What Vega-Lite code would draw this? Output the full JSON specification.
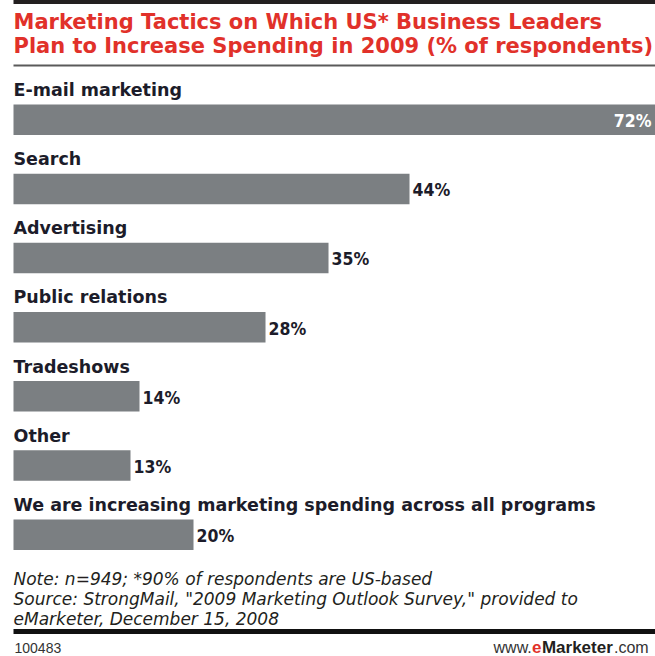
{
  "$schema": "https://vega.github.io/schema/vega-lite/v6.json",
  "padding": {"left": 10.5, "top": 0, "right": 0, "bottom": 0},
  "background": "white",
  "spacing": 0,
  "bounds": "flush",
  "config": {"view": {"stroke": null}},
  "datasets": {
    "tactics": [
      {"tactic": "E-mail marketing", "pct": 72, "label": "72%"},
      {"tactic": "Search", "pct": 44, "label": "44%"},
      {"tactic": "Advertising", "pct": 35, "label": "35%"},
      {"tactic": "Public relations", "pct": 28, "label": "28%"},
      {"tactic": "Tradeshows", "pct": 14, "label": "14%"},
      {"tactic": "Other", "pct": 13, "label": "13%"},
      {"tactic": "We are increasing marketing spending across all programs", "pct": 20, "label": "20%"}
    ],
    "titleLines": [
      {"line": 1, "text": "Marketing Tactics on Which US* Business Leaders"},
      {"line": 2, "text": "Plan to Increase Spending in 2009 (% of respondents)"}
    ],
    "notes": [
      {"line": 1, "text": "Note: n=949; *90% of respondents are US-based"},
      {"line": 2, "text": "Source: StrongMail, \"2009 Marketing Outlook Survey,\" provided to"},
      {"line": 3, "text": "eMarketer, December 15, 2008"}
    ]
  },
  "vconcat": [
    {
      "width": 642,
      "height": 75,
      "layer": [
        {
          "data": {"values": [{}]},
          "mark": {"type": "rule", "color": "#231f20", "strokeWidth": 4},
          "encoding": {"y": {"datum": 2, "type": "quantitative", "scale": {"domain": [0, 75], "reverse": true}, "axis": null}}
        },
        {
          "data": {"values": [{}]},
          "mark": {"type": "rule", "color": "#5a5a5a", "strokeWidth": 2},
          "encoding": {"y": {"datum": 65.5, "type": "quantitative", "scale": {"domain": [0, 75], "reverse": true}, "axis": null}}
        },
        {
          "data": {"name": "titleLines"},
          "mark": {"type": "text", "align": "left", "baseline": "alphabetic", "font": "DejaVu Sans", "fontWeight": "bold", "fontSize": 21, "color": "#e1312a"},
          "encoding": {
            "x": {"datum": 0, "type": "quantitative", "scale": {"domain": [0, 642]}, "axis": null},
            "y": {"field": "line", "type": "ordinal", "scale": {"type": "point", "range": [29, 53], "padding": 0}, "axis": null},
            "text": {"field": "text"}
          }
        }
      ],
      "resolve": {"scale": {"y": "independent"}}
    },
    {
      "width": 642,
      "height": 484,
      "data": {"name": "tactics"},
      "encoding": {
        "y": {"field": "tactic", "type": "nominal", "sort": null, "axis": null, "scale": {"paddingInner": 0, "paddingOuter": 0}}
      },
      "layer": [
        {
          "mark": {"type": "bar", "color": "#7b7f82", "height": 30.5, "yOffset": 10.2},
          "encoding": {
            "x": {"field": "pct", "type": "quantitative", "axis": null, "scale": {"domain": [0, 71.33], "nice": false, "zero": true, "clamp": true}}
          }
        },
        {
          "transform": [{"filter": "datum.pct < 60"}],
          "mark": {"type": "text", "align": "left", "baseline": "alphabetic", "dx": 3, "dy": 17.5, "font": "DejaVu Sans Condensed", "fontWeight": "bold", "fontSize": 17.5, "color": "#1c1c2a"},
          "encoding": {"x": {"field": "pct", "type": "quantitative"}, "text": {"field": "label"}}
        },
        {
          "transform": [{"filter": "datum.pct >= 60"}],
          "mark": {"type": "text", "align": "right", "baseline": "alphabetic", "dx": -4, "dy": 17.5, "font": "DejaVu Sans Condensed", "fontWeight": "bold", "fontSize": 17.5, "color": "#ffffff"},
          "encoding": {"x": {"field": "pct", "type": "quantitative"}, "text": {"field": "label"}}
        },
        {
          "mark": {"type": "text", "align": "left", "baseline": "alphabetic", "dy": -13.6, "font": "DejaVu Sans", "fontWeight": "bold", "fontSize": 17.5, "color": "#1c1c2a"},
          "encoding": {"x": {"datum": 0, "type": "quantitative"}, "text": {"field": "tactic"}}
        }
      ]
    },
    {
      "width": 642,
      "height": 97,
      "layer": [
        {
          "data": {"name": "notes"},
          "mark": {"type": "text", "align": "left", "baseline": "alphabetic", "font": "DejaVu Sans", "fontStyle": "italic", "fontSize": 17, "color": "#231f20"},
          "encoding": {
            "x": {"datum": 0, "type": "quantitative", "scale": {"domain": [0, 642]}, "axis": null},
            "y": {"field": "line", "type": "ordinal", "scale": {"type": "point", "range": [26, 65.5], "padding": 0}, "axis": null},
            "text": {"field": "text"}
          }
        },
        {
          "data": {"values": [{}]},
          "encoding": {"y": {"datum": 72.5, "type": "quantitative", "scale": {"domain": [0, 97], "reverse": true}, "axis": null}},
          "layer": [
            {"mark": {"type": "rule", "color": "#111111", "strokeWidth": 5}},
            {
              "mark": {"type": "text", "align": "left", "baseline": "alphabetic", "dy": 21.5, "font": "Liberation Sans", "fontSize": 14, "color": "#333333", "text": "100483"},
              "encoding": {"x": {"datum": 1, "type": "quantitative"}}
            },
            {
              "mark": {"type": "text", "align": "left", "baseline": "alphabetic", "dy": 21.5, "font": "Liberation Sans", "fontSize": 16, "color": "#333333", "text": "www."},
              "encoding": {"x": {"datum": 486, "type": "quantitative"}}
            },
            {
              "mark": {"type": "text", "align": "left", "baseline": "alphabetic", "dy": 21.5, "font": "Liberation Sans", "fontWeight": "bold", "fontSize": 17, "color": "#e1312a", "text": "e"},
              "encoding": {"x": {"datum": 525, "type": "quantitative"}}
            },
            {
              "mark": {"type": "text", "align": "left", "baseline": "alphabetic", "dy": 21.5, "font": "Liberation Sans", "fontWeight": "bold", "fontSize": 17, "color": "#231f20", "text": "Marketer"},
              "encoding": {"x": {"datum": 535, "type": "quantitative"}}
            },
            {
              "mark": {"type": "text", "align": "left", "baseline": "alphabetic", "dy": 21.5, "font": "Liberation Sans", "fontSize": 16, "color": "#333333", "text": ".com"},
              "encoding": {"x": {"datum": 608, "type": "quantitative"}}
            }
          ]
        }
      ],
      "resolve": {"scale": {"y": "independent"}}
    }
  ]
}
